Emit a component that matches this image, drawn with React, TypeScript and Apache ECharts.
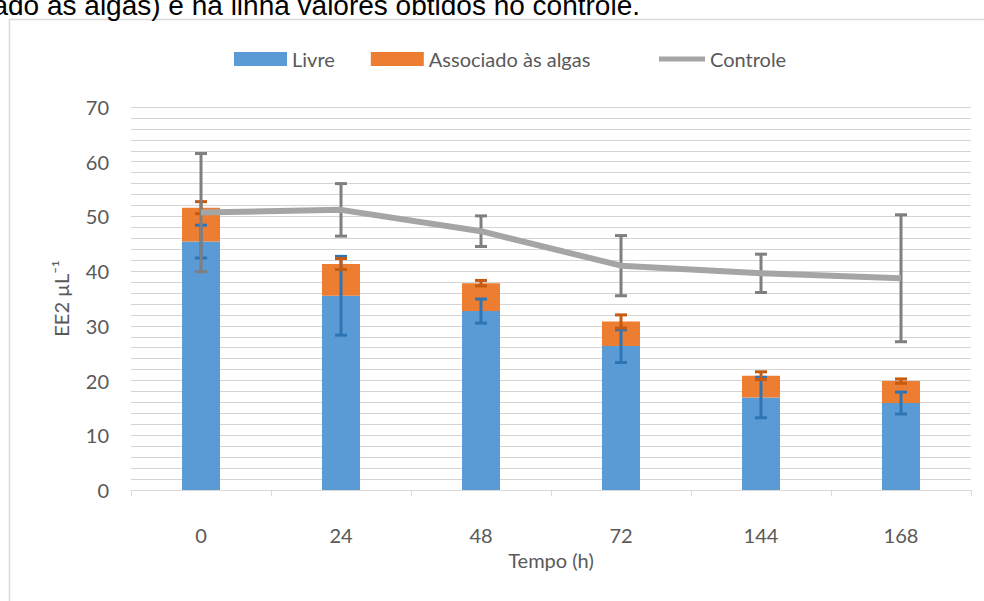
import React, { useEffect, useRef } from "react";
import * as echarts from "echarts";

const categories = ["0", "24", "48", "72", "144", "168"];
const livre = [45.4, 35.5, 32.7, 26.3, 16.9, 15.9];
const associado = [6.2, 5.8, 5.1, 4.5, 4.0, 4.0];
const controle = [50.7, 51.2, 47.3, 41.0, 39.6, 38.7];
const livreErr = [3.0, 7.2, 2.2, 3.0, 3.7, 2.0];
const associadoErr = [1.1, 1.0, 0.5, 1.2, 0.7, 0.4];
const controleErr = [10.8, 4.8, 2.8, 5.5, 3.5, 11.6];
const yTicks = [0, 10, 20, 30, 40, 50, 60, 70];

const FONT = "Lato";

function errSeries(name: string, centers: number[], errs: number[], color: string) {
  return {
    type: "custom",
    name,
    silent: true,
    z: 5,
    encode: { x: 0, y: 1 },
    data: centers.map((c, i) => [i, c, errs[i]]),
    renderItem: (_p: any, api: any) => {
      const x = api.value(0);
      const c = api.value(1);
      const e = api.value(2);
      const top = api.coord([x, c + e]);
      const bot = api.coord([x, c - e]);
      const hw = 6;
      const st = { stroke: color, lineWidth: 3 };
      return {
        type: "group",
        children: [
          { type: "line", shape: { x1: top[0], y1: top[1], x2: bot[0], y2: bot[1] }, style: st },
          { type: "line", shape: { x1: top[0] - hw, y1: top[1], x2: top[0] + hw, y2: top[1] }, style: st },
          { type: "line", shape: { x1: bot[0] - hw, y1: bot[1], x2: bot[0] + hw, y2: bot[1] }, style: st },
        ],
      };
    },
  };
}

export default function App() {
  const ref = useRef<HTMLDivElement>(null);
  useEffect(() => {
    if (!ref.current) return;
    const chart = echarts.init(ref.current, undefined, { renderer: "svg" });
    const totals = livre.map((v, i) => v + associado[i]);
    const legendText = { fontFamily: FONT, fontSize: 20, color: "#595959" };
    chart.setOption({
      animation: false,
      backgroundColor: "#ffffff",
      graphic: [
        {
          type: "rect",
          shape: { x: 9.5, y: 19.5, width: 1100, height: 1000 },
          style: { fill: "none", stroke: "#d9d9d9", lineWidth: 1.5 },
          silent: true,
        },
        {
          type: "text",
          x: 640,
          y: 5,
          style: {
            text: "ado às algas) e na linha valores obtidos no controle.",
            fontFamily: "Liberation Sans",
            fontSize: 28,
            fill: "#000000",
            textAlign: "right",
            textVerticalAlign: "middle",
          },
          silent: true,
        },
      ],
      legend: [
        {
          left: 229,
          top: 44,
          itemWidth: 53,
          itemHeight: 14,
          itemGap: 36,
          textStyle: legendText,
          data: [
            { name: "Livre", icon: "rect" },
            { name: "Associado às algas", icon: "rect" },
          ],
        },
        {
          left: 654,
          top: 44,
          itemWidth: 46,
          itemHeight: 14,
          itemGap: 4,
          textStyle: legendText,
          data: [{ name: "Controle", icon: "path://M0,0H46V5H0Z" }],
        },
      ],
      grid: { left: 131, right: 13, top: 107, bottom: 111, containLabel: false },
      xAxis: {
        type: "category",
        data: categories,
        boundaryGap: true,
        axisLine: { lineStyle: { color: "#d9d9d9", width: 1 } },
        axisTick: { show: true, length: 6, lineStyle: { color: "#d9d9d9" } },
        axisLabel: { fontFamily: FONT, fontSize: 20, color: "#595959", margin: 35 },
        name: "Tempo (h)",
        nameLocation: "middle",
        nameGap: 55,
        nameTextStyle: { fontFamily: FONT, fontSize: 20, color: "#595959" },
      },
      yAxis: {
        type: "value",
        min: yTicks[0],
        max: yTicks[yTicks.length - 1],
        interval: 10,
        axisLine: { show: false },
        axisTick: { show: false },
        axisLabel: { fontFamily: FONT, fontSize: 20, color: "#595959", margin: 22 },
        splitLine: { lineStyle: { color: "#d4d4d4", width: 1 } },
        minorTick: { show: false, splitNumber: 5 },
        minorSplitLine: { show: true, lineStyle: { color: "#d4d4d4", width: 1 } },
        name: "EE2 µL⁻¹",
        nameLocation: "middle",
        nameGap: 60,
        nameTextStyle: { fontFamily: FONT, fontSize: 20, color: "#595959" },
      },
      series: [
        {
          type: "bar",
          name: "Livre",
          stack: "a",
          barWidth: 38,
          data: livre,
          itemStyle: { color: "#5B9BD5" },
        },
        {
          type: "bar",
          name: "Associado às algas",
          stack: "a",
          barWidth: 38,
          data: associado,
          itemStyle: { color: "#ED7D31" },
        },
        errSeries("errLivre", livre, livreErr, "#2E75B6"),
        errSeries("errAssoc", totals, associadoErr, "#C55A11"),
        errSeries("errCtrl", controle, controleErr, "#7F7F7F"),
        {
          type: "line",
          name: "Controle",
          data: controle,
          symbol: "none",
          z: 6,
          lineStyle: { color: "#A5A5A5", width: 6 },
          itemStyle: { color: "#A5A5A5" },
        },
      ],
    });
    return () => chart.dispose();
  }, []);
  return (
    <div
      ref={ref}
      style={{ position: "fixed", left: 0, top: 0, width: 984, height: 601 }}
    />
  );
}
